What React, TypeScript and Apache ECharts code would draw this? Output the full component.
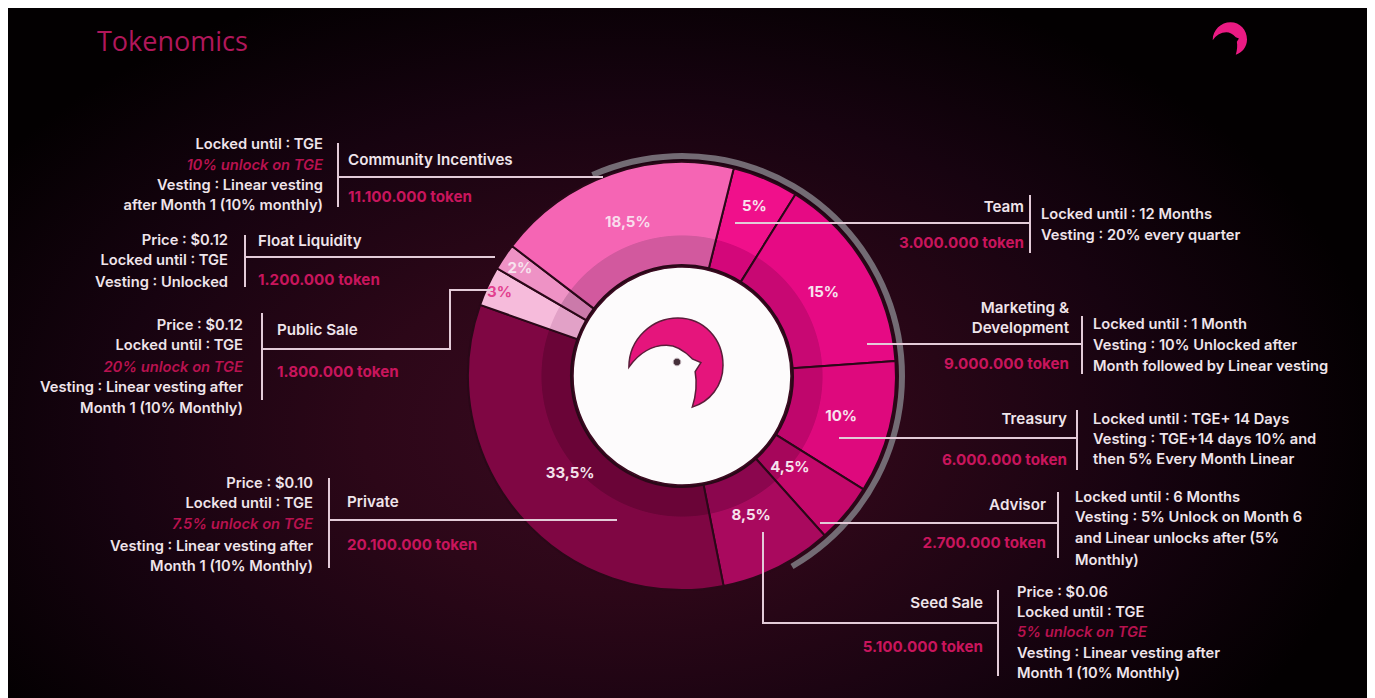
import React, { useEffect, useRef } from 'react';
import * as echarts from 'echarts';

// ---------- data ----------
const categories = [
  'Team',
  'Marketing &\nDevelopment',
  'Treasury',
  'Advisor',
  'Seed Sale',
  'Private',
  'Public Sale',
  'Float Liquidity',
  'Community Incentives',
];
const shares = [5, 15, 10, 4.5, 8.5, 33.5, 3, 2, 18.5];
const tokenAmounts = [
  '3.000.000 token',
  '9.000.000 token',
  '6.000.000 token',
  '2.700.000 token',
  '5.100.000 token',
  '20.100.000 token',
  '1.800.000 token',
  '1.200.000 token',
  '11.100.000 token',
];
const vestingDetails = [
  ['Locked until : 12 Months', 'Vesting : 20% every quarter'],
  ['Locked until : 1 Month', 'Vesting : 10% Unlocked after', 'Month followed by Linear vesting'],
  ['Locked until : TGE+ 14 Days', 'Vesting : TGE+14 days 10% and', 'then 5% Every Month Linear'],
  ['Locked until : 6 Months', 'Vesting : 5% Unlock on Month 6', 'and Linear unlocks after (5%', 'Monthly)'],
  ['Price : $0.06', 'Locked until : TGE', '5% unlock on TGE', 'Vesting : Linear vesting after', 'Month 1 (10% Monthly)'],
  ['Price : $0.10', 'Locked until : TGE', '7.5% unlock on TGE', 'Vesting : Linear vesting after', 'Month 1 (10% Monthly)'],
  ['Price : $0.12', 'Locked until : TGE', '20% unlock on TGE', 'Vesting : Linear vesting after', 'Month 1 (10% Monthly)'],
  ['Price : $0.12', 'Locked until : TGE', 'Vesting : Unlocked'],
  ['Locked until : TGE', '10% unlock on TGE', 'Vesting : Linear vesting', 'after Month 1 (10% monthly)'],
];
const titleText = 'Tokenomics';

// ---------- styles ----------
const outerColors = ['#f0108b', '#e60a84', '#de097d', '#c4086b', '#a9095e', '#7f0643', '#f6bbdb', '#ee92c5', '#f565b4'];
const innerColors = ['#d3077a', '#c80873', '#bf066c', '#a6065b', '#8b064e', '#6a0437', '#e2a1c7', '#cb7aaa', '#d2599e'];
const pctColors = ['#f7e3ee', '#f7e3ee', '#f7e3ee', '#f7e3ee', '#f7e3ee', '#f4e2ec', '#e23f8f', '#f7e3ee', '#f9dcec'];
const labelRadius = [185, 165, 164, 141, 155, 148, 201, 195, 164];

const OFF = 8; // page -> chart offset (body margin)
const CX = 674;
const CY = 368;
const R_IN = 111;
const R_BAND = 141;
const R_OUT = 214;

// annotation layout in page coordinates
const annotationLayout = [
  { side: 'right', divX: 1030, divY: [195, 253], line: [[735, 223], [1030, 223]], nameX: 1024, nameY: [206], tokenY: 242, detailX: 1041, detailY: [214, 235] },
  { side: 'right', divX: 1082, divY: [316, 374], line: [[867, 344], [1082, 344]], nameX: 1069, nameY: [307, 327], tokenY: 363, detailX: 1093, detailY: [324, 345, 366] },
  { side: 'right', divX: 1077, divY: [410, 470], line: [[839, 438], [1077, 438]], nameX: 1067, nameY: [418], tokenY: 459, detailX: 1093, detailY: [419, 439, 459] },
  { side: 'right', divX: 1058, divY: [492, 558], line: [[820, 523], [1058, 523]], nameX: 1046, nameY: [504], tokenY: 542, detailX: 1075, detailY: [497, 517, 538, 560] },
  { side: 'right', divX: 998, divY: [590, 676], line: [[763, 532], [763, 623], [998, 623]], nameX: 983, nameY: [602], tokenY: 646, detailX: 1017, detailY: [592, 612, 632, 653, 673] },
  { side: 'left', divX: 329, divY: [478, 568], line: [[329, 520], [617, 520]], nameX: 347, nameY: [501], tokenY: 544, detailX: 313, detailY: [483, 503, 524, 546, 566] },
  { side: 'left', divX: 262, divY: [313, 400], line: [[262, 349], [450, 349], [450, 290], [493, 290]], nameX: 277, nameY: [329], tokenY: 371, detailX: 243, detailY: [325, 345, 367, 387, 408] },
  { side: 'left', divX: 245, divY: [235, 287], line: [[245, 257], [495, 257]], nameX: 258, nameY: [240], tokenY: 279, detailX: 228, detailY: [240, 260, 282] },
  { side: 'left', divX: 338, divY: [143, 207], line: [[338, 177], [603, 177]], nameX: 348, nameY: [159], tokenY: 196, detailX: 323, detailY: [144, 165, 185, 205] },
];

const FONT = 'Inter, "Open Sans", sans-serif';
const WHITE = '#efe4ea';
const PINK = '#c8155c';
const PINK_IT = '#b8124f';
const LINE = '#e3cbd8';

const LOGO_D =
  'M2 55 C2 24 26 1 53 1 C80 1 100 24 100 53 C100 76 86 93 68 99 C72 86 73 72 71 60 L77 50 L68 46 C59 36 50 31 41 31 C26 31 12 40 2 55 Z';
echarts.graphic.registerShape('birdLogo', echarts.graphic.extendPath(LOGO_D, {}));

function txt(x: number, y: number, text: string, font: string, fill: string, align: string) {
  return {
    type: 'text',
    z: 100,
    silent: true,
    style: {
      text,
      x: x - OFF,
      y: y - OFF,
      font,
      fill,
      textAlign: align,
      textVerticalAlign: 'middle',
    },
  };
}

function buildGraphics() {
  const els: any[] = [];
  // title
  els.push(txt(97, 40, titleText, `400 27px "Open Sans", ${FONT}`, '#b0175a', 'left'));
  // top right logo
  els.push({
    type: 'birdLogo', z: 100, silent: true,
    x: 1212 - OFF, y: 22 - OFF, scaleX: 0.35, scaleY: 0.33,
    style: { fill: '#ea1a83', stroke: 'none' },
  });
  // center white disc + logo
  els.push({
    type: 'circle', z: 90, silent: true,
    shape: { cx: CX, cy: CY, r: R_IN - 2 },
    style: { fill: '#fdfbfc', stroke: '#3a0a20', lineWidth: 1.5 },
  });
  els.push({
    type: 'birdLogo', z: 100, silent: true,
    x: 627 - OFF, y: 317 - OFF, scaleX: 0.96, scaleY: 0.91,
    style: { fill: '#e5157c', stroke: '#5b1d3a', lineWidth: 1.6 },
  });
  els.push({
    type: 'circle', z: 101, silent: true,
    shape: { cx: 677 - OFF, cy: 362 - OFF, r: 3.8 },
    style: { fill: '#45303a', stroke: '#bfb0b8', lineWidth: 1 },
  });

  annotationLayout.forEach((L, i) => {
    const nameLines = categories[i].split('\n');
    const nameAlign = L.side === 'right' ? 'right' : 'left';
    const detailAlign = L.side === 'right' ? 'left' : 'right';
    // divider
    els.push({
      type: 'line', z: 95, silent: true,
      shape: { x1: L.divX - OFF, y1: L.divY[0] - OFF, x2: L.divX - OFF, y2: L.divY[1] - OFF },
      style: { stroke: LINE, lineWidth: 2 },
    });
    // leader
    els.push({
      type: 'polyline', z: 95, silent: true,
      shape: { points: L.line.map((p) => [p[0] - OFF, p[1] - OFF]) },
      style: { stroke: LINE, lineWidth: 2, fill: 'none' },
    });
    nameLines.forEach((n, k) => {
      els.push(txt(L.nameX, L.nameY[k], n, `600 15.2px ${FONT}`, WHITE, nameAlign));
    });
    els.push(txt(L.nameX, L.tokenY, tokenAmounts[i], `700 15.2px ${FONT}`, PINK, nameAlign));
    vestingDetails[i].forEach((d, k) => {
      const isUnlock = /unlock on TGE/.test(d);
      els.push(
        txt(
          L.detailX,
          L.detailY[k],
          d,
          isUnlock ? `italic 600 14.7px ${FONT}` : `600 14.7px ${FONT}`,
          isUnlock ? PINK_IT : WHITE,
          detailAlign
        )
      );
    });
  });
  return els;
}

export default function App() {
  const ref = useRef<HTMLDivElement>(null);
  useEffect(() => {
    if (!ref.current) return;
    const chart = echarts.init(ref.current, undefined, { renderer: 'svg' });
    const bandStop = R_BAND / R_OUT;
    const data = categories.map((name, i) => ({
      name,
      value: shares[i],
      itemStyle: {
        color: new echarts.graphic.RadialGradient(
          CX,
          CY,
          R_OUT,
          [
            { offset: 0, color: innerColors[i] },
            { offset: bandStop - 0.004, color: innerColors[i] },
            { offset: bandStop, color: outerColors[i] },
            { offset: 1, color: outerColors[i] },
          ],
          true
        ),
      },
      label: { color: pctColors[i] },
    }));
    chart.setOption({
      animation: false,
      backgroundColor: 'transparent',
      series: [
        {
          type: 'pie',
          center: [CX, CY],
          radius: [R_IN, R_OUT],
          startAngle: 76,
          clockwise: true,
          avoidLabelOverlap: false,
          silent: true,
          itemStyle: { borderColor: '#2a0818', borderWidth: 2 },
          label: {
            show: true,
            position: 'inside',
            fontFamily: FONT,
            fontWeight: 700,
            fontSize: 15,
            formatter: (p: any) => String(p.value).replace('.', ',') + '%',
          },
          labelLine: { show: false },
          labelLayout: (params: any) => {
            const r = labelRadius[params.dataIndex];
            const rect = params.labelRect;
            const lx = rect.x + rect.width / 2;
            const ly = rect.y + rect.height / 2;
            const dx = lx - CX;
            const dy = ly - CY;
            const d = Math.hypot(dx, dy) || 1;
            return { x: CX + (dx / d) * r, y: CY + (dy / d) * r, align: 'center', verticalAlign: 'middle' };
          },
          emphasis: { disabled: true },
          data,
        },
        {
          type: 'pie',
          center: [CX, CY],
          radius: [R_OUT + 3, R_OUT + 9],
          startAngle: 114,
          clockwise: true,
          silent: true,
          label: { show: false },
          labelLine: { show: false },
          emphasis: { disabled: true },
          data: [
            { value: 174, itemStyle: { color: '#736b74' } },
            { value: 186, itemStyle: { color: 'rgba(0,0,0,0)' } },
          ],
        },
      ],
      graphic: { elements: buildGraphics() },
    });
    return () => chart.dispose();
  }, []);
  return (
    <div
      ref={ref}
      style={{
        width: 1359,
        height: 690,
        background:
          'radial-gradient(ellipse 760px 480px at 620px 420px, #3a0a21 0%, #2c0718 35%, #170310 68%, #030001 100%)',
      }}
    />
  );
}
